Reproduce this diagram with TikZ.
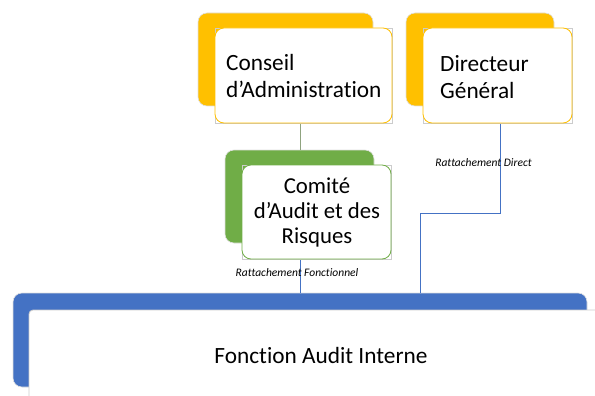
\documentclass[tikz,border=0pt]{standalone}
\usepackage{fontspec}
\setmainfont{Carlito}[Ligatures=NoCommon]
\definecolor{cyellow}{HTML}{FFC000}
\definecolor{cgreen}{HTML}{70AD47}
\definecolor{cblue}{HTML}{4472C4}
\definecolor{clinegreen}{HTML}{8FA37F}
\begin{document}
\begin{tikzpicture}[x=1pt,y=-1pt,
  backbox/.style={draw=gray!25, line width=0.6pt, rounded corners=9pt, inner sep=0pt},
  frontbox/.style={fill=white, line width=0.8pt, rounded corners=9pt, inner sep=0pt},
  squarebox/.style={draw=gray!40, line width=0.5pt, inner sep=0pt},
  maintext/.style={font=\fontsize{23.3}{27.5}\selectfont, inner sep=0pt},
  labeltext/.style={font=\fontsize{11.5}{13}\selectfont\itshape, inner sep=0pt},
  link/.style={line width=0.9pt}
]
\clip (0,0) rectangle (595,396);
% back shapes
\node[backbox, fill=cyellow, minimum width=175pt, minimum height=93pt] (conseilback) at (285.5,59.5) {};
\node[backbox, fill=cyellow, minimum width=148pt, minimum height=93pt] (dirback) at (480,59.5) {};
\node[backbox, fill=cgreen, minimum width=149pt, minimum height=93pt] (comiteback) at (299.5,196.5) {};
\node[backbox, fill=cblue, minimum width=574pt, minimum height=94pt] (auditback) at (300,340) {};
% connectors
\coordinate (bend) at (420,213);
\draw[link, clinegreen] (300,123) -- (300,150);
\draw[link, cblue] (dirback.south -| 500,0) ++(0,16) |- (bend) -- (bend |- auditback.north);
\draw[link, cblue] (comiteback.south -| 300,0) -- (300,293);
% front shapes
\node[squarebox, minimum width=177pt, minimum height=95pt] (conseilsq) at (303.5,75.5) {};
\node[frontbox, draw=cyellow, minimum width=177pt, minimum height=95pt] (conseilfront) at (303.5,75.5) {};
\node[squarebox, minimum width=149pt, minimum height=95pt] (dirsq) at (497.5,75.5) {};
\node[frontbox, draw=cyellow, minimum width=149pt, minimum height=95pt] (dirfront) at (497.5,75.5) {};
\node[squarebox, minimum width=149pt, minimum height=94pt] (comitesq) at (316.5,212) {};
\node[frontbox, draw=cgreen, minimum width=149pt, minimum height=94pt] (comitefront) at (316.5,212) {};
\node[frontbox, draw=gray!40, rounded corners=4pt, minimum width=576pt, minimum height=95pt] (auditfront) at (317,357.5) {};
% texts
\node[maintext, align=left, anchor=west] (conseiltext) at (226,76) {Conseil\\d’Administration};
\node[maintext, align=left, anchor=west] (dirtext) at (440,77) {Directeur\\Général};
\node[maintext, align=center, font=\fontsize{22.8}{25}\selectfont] (comitetext) at (317,212) {Comité\\d’Audit et des\\Risques};
\node[maintext] (audittext) at (321,355) {Fonction Audit Interne};
\node[labeltext] (lblfonc) at (297,273) {Rattachement Fonctionnel};
\node[labeltext] (lbldir) at (483.5,163) {Rattachement Direct};
\end{tikzpicture}
\end{document}
